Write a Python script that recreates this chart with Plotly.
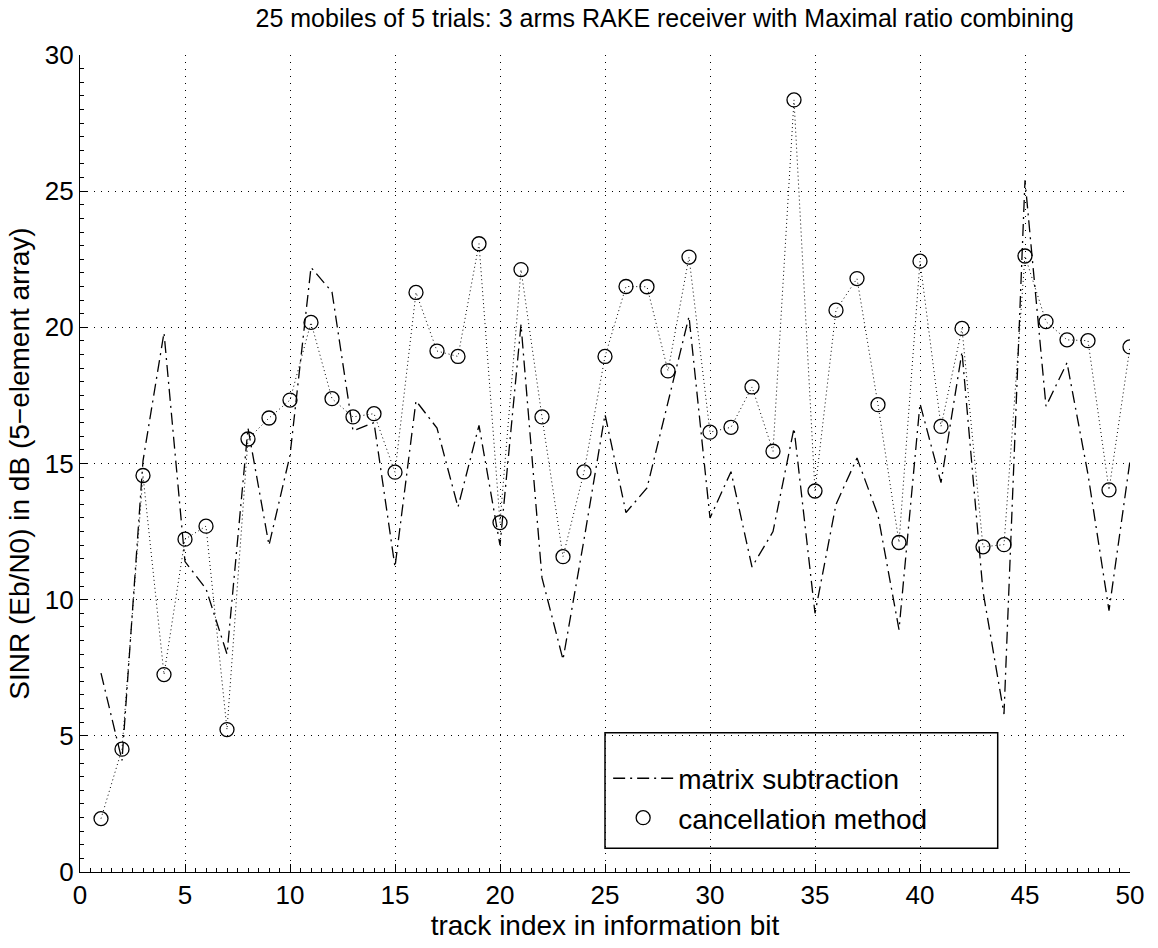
import plotly.graph_objects as go

# ---- data ----
track_index = list(range(1, 51))

matrix_subtraction = [
    7.3, 4.1, 15.1, 19.8, 11.4, 10.4, 8.0, 16.3, 12.0, 15.3,
    22.2, 21.3, 16.2, 16.5, 11.2, 17.3, 16.3, 13.4, 16.4, 12.0,
    20.1, 10.8, 7.8, 12.2, 16.8, 13.2, 14.1, 17.3, 20.4, 13.0,
    14.7, 11.2, 12.5, 16.3, 9.5, 13.5, 15.2, 13.1, 8.9, 17.2,
    14.3, 19.1, 10.3, 5.8, 25.4, 17.1, 18.7, 14.6, 9.6, 15.1,
]

cancellation_method = [
    1.96, 4.51, 14.56, 7.25, 12.22, 12.70, 5.23, 15.90, 16.67, 17.33,
    20.18, 17.38, 16.71, 16.83, 14.68, 21.28, 19.13, 18.93, 23.07, 12.83,
    22.12, 16.71, 11.58, 14.69, 18.93, 21.50, 21.49, 18.40, 22.58, 16.15,
    16.33, 17.81, 15.45, 28.35, 13.99, 20.63, 21.79, 17.16, 12.10, 22.43,
    16.36, 19.96, 11.94, 12.02, 22.62, 20.21, 19.54, 19.51, 14.03, 19.28,
]

x_ticks = list(range(0, 51, 5))
y_ticks = list(range(0, 31, 5))

title_text = "25 mobiles of 5 trials: 3 arms RAKE receiver with Maximal ratio combining"
x_label = "track index in information bit"
y_label = "SINR (Eb/N0) in dB (5\u2212element array)"

FONT = "Liberation Sans, Arial, Helvetica, sans-serif"

fig = go.Figure()

# dotted connecting line of the cancellation method (not in legend)
fig.add_trace(go.Scatter(
    x=track_index, y=cancellation_method, mode="lines",
    line=dict(color="black", width=1, dash="1px,3px"),
    showlegend=False, hoverinfo="skip",
))

fig.add_trace(go.Scatter(
    x=track_index, y=matrix_subtraction, mode="lines",
    name="matrix subtraction",
    line=dict(color="black", width=1.3, dash="12px,5px,2px,5px"),
))

fig.add_trace(go.Scatter(
    x=track_index, y=cancellation_method, mode="markers",
    name="cancellation method",
    marker=dict(symbol="circle-open", size=14, color="black",
                line=dict(width=1.3, color="black")),
))

axis_common = dict(
    showgrid=True, gridcolor="black", gridwidth=1, griddash="1px,6px",
    showline=True, linecolor="black", linewidth=1.3, mirror=False,
    ticks="inside", ticklen=8, tickwidth=1.2, tickcolor="black",
    tickfont=dict(family=FONT, size=26, color="black"),
    zeroline=False,
    minor=dict(ticks="inside", ticklen=4, tickwidth=1, tickcolor="black",
               dtick=0.5, showgrid=False),
)

fig.update_layout(
    width=1158, height=948,
    margin=dict(l=80, r=28, t=55, b=72),
    paper_bgcolor="white", plot_bgcolor="white",
    font=dict(family=FONT, color="black"),
    title=dict(text=title_text, x=0.574, xanchor="center",
               y=0.981, yanchor="middle",
               font=dict(family=FONT, size=25, color="black")),
    xaxis=dict(range=[0, 50], tickvals=x_ticks,
               title=dict(text=x_label, font=dict(family=FONT, size=28), standoff=6),
               **axis_common),
    yaxis=dict(range=[0, 30], tickvals=y_ticks,
               title=dict(text=y_label, font=dict(family=FONT, size=28), standoff=6),
               **axis_common),
    legend=dict(x=0.503, y=0.145, xanchor="left", yanchor="top",
                bgcolor="rgba(0,0,0,0)", borderwidth=0,
                itemwidth=60,
                font=dict(family=FONT, size=28, color="black"),
                tracegroupgap=0),
    shapes=[dict(type="rect", xref="paper", yref="paper",
                 x0=0.5, x1=0.874, y0=0.0292, y1=0.1705,
                 line=dict(color="black", width=1.5), fillcolor="rgba(0,0,0,0)",
                 layer="above")],
    showlegend=True,
)

fig.write_html("out.html")
